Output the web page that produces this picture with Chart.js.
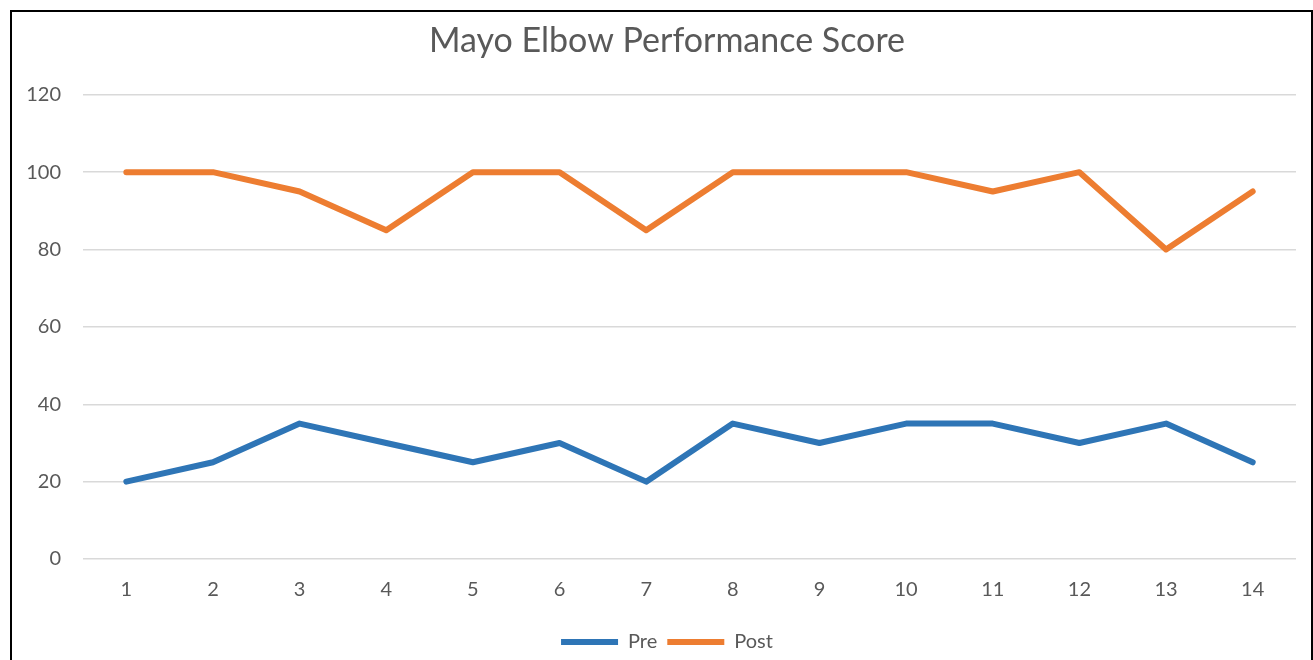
<!DOCTYPE html>
<html>
<head>
<meta charset="utf-8">
<script src="https://cdn.jsdelivr.net/npm/chart.js@4/dist/chart.umd.min.js"></script>
<style>
    html, body { margin: 0; padding: 0; background: #fff; overflow: hidden; }
    #wrap { position: absolute; left: 0; top: 0; width: 1313px; height: 662px; }
    #frame {
        position: absolute; left: 10px; top: 10px;
        width: 1299px; height: 700px;
        border: 2px solid #000;
        pointer-events: none;
    }
</style>
</head>
<body>
<div id="wrap"><canvas id="mayoChart" width="1313" height="662"></canvas></div>
<div id="frame"></div>
<script>
// Patient number along the x axis
const patients = ['1', '2', '3', '4', '5', '6', '7', '8', '9', '10', '11', '12', '13', '14'];

// Mayo Elbow Performance Score before and after
const preScores = [20, 25, 35, 30, 25, 30, 20, 35, 30, 35, 35, 30, 35, 25];
const postScores = [100, 100, 95, 85, 100, 100, 85, 100, 100, 100, 95, 100, 80, 95];

const yTicks = [0, 20, 40, 60, 80, 100, 120];

const textColor = '#595959';
const fontFamily = 'Lato, "Open Sans", sans-serif';

// Excel centres title and legend a bit right of the canvas middle
const centerShift = {
    id: 'centerShift',
    afterLayout(chart) {
        [chart.titleBlock, chart.legend].forEach(box => {
            if (box) {
                box.left += 14;
                box.right += 14;
            }
        });
    }
};

function renderMayoChart() {
    const ctx = document.getElementById('mayoChart');
    if (!ctx) return;

    ctx.chart = new Chart(ctx, {
        type: 'line',
        data: {
            labels: patients,
            datasets: [{
                label: 'Pre',
                data: preScores,
                borderColor: '#2E75B6',
                backgroundColor: '#2E75B6',
                borderWidth: 6,
                borderCapStyle: 'round',
                borderJoinStyle: 'round',
                pointRadius: 0,
                tension: 0
            },
            {
                label: 'Post',
                data: postScores,
                borderColor: '#ED7D31',
                backgroundColor: '#ED7D31',
                borderWidth: 6,
                borderCapStyle: 'round',
                borderJoinStyle: 'round',
                pointRadius: 0,
                tension: 0
            }]
        },
        plugins: [centerShift],
        options: {
            responsive: false,
            animation: false,
            layout: {
                padding: { left: 10, right: 17, top: 12, bottom: 0 }
            },
            scales: {
                x: {
                    offset: true,
                    grid: { display: false, drawTicks: false },
                    border: { display: false },
                    ticks: {
                        color: textColor,
                        font: { family: fontFamily, size: 20 },
                        padding: 19,
                        maxRotation: 0
                    },
                    afterFit: scale => { scale.height = 63; }
                },
                y: {
                    min: 0,
                    max: 120,
                    afterBuildTicks: scale => {
                        scale.ticks = yTicks.map(v => ({ value: v }));
                    },
                    grid: {
                        color: '#d9d9d9',
                        lineWidth: 1.5,
                        drawTicks: false
                    },
                    border: { display: false },
                    ticks: {
                        color: textColor,
                        font: { family: fontFamily, size: 20 },
                        padding: 22
                    },
                    afterFit: scale => { scale.width = 73; }
                }
            },
            plugins: {
                title: {
                    display: true,
                    text: 'Mayo Elbow Performance Score',
                    color: textColor,
                    font: { family: fontFamily, size: 34, weight: 'normal' },
                    padding: { top: 9, bottom: 33 }
                },
                legend: {
                    position: 'bottom',
                    labels: {
                        color: textColor,
                        font: { family: fontFamily, size: 20 },
                        usePointStyle: true,
                        pointStyle: 'line',
                        pointStyleWidth: 57,
                        padding: 10
                    }
                },
                tooltip: { enabled: false }
            }
        }
    });
}

document.addEventListener('DOMContentLoaded', () => {
    renderMayoChart();
});
</script>
</body>
</html>
